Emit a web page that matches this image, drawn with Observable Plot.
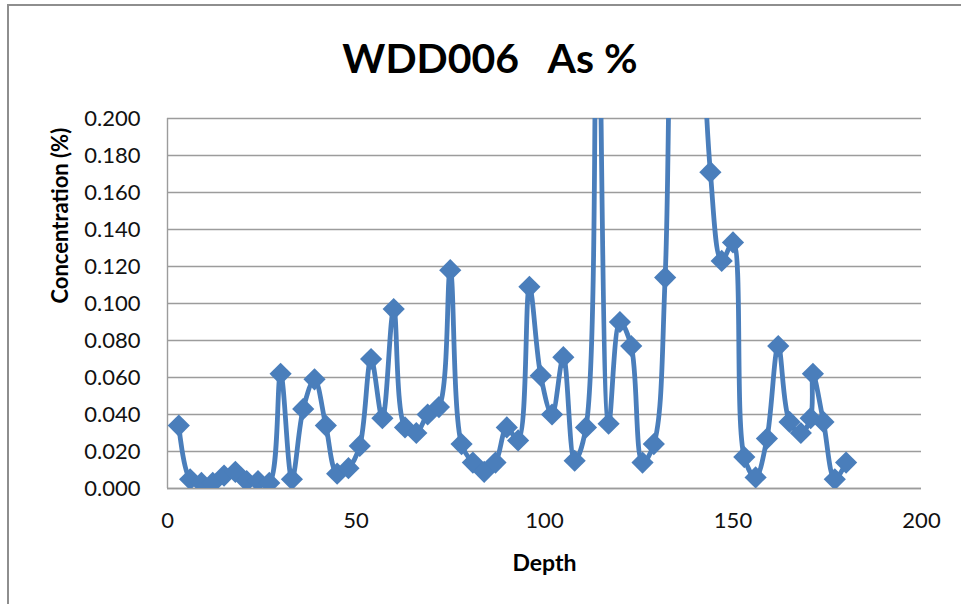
<!DOCTYPE html>
<html>
<head>
<meta charset="utf-8">
<script src="https://cdn.jsdelivr.net/npm/d3@7"></script>
<script src="https://cdn.jsdelivr.net/npm/@observablehq/plot@0.6"></script>
<style>
  html, body { margin: 0; padding: 0; background: #fff; overflow: hidden; }
  #wrap { position: relative; width: 961px; height: 604px; }
  #frame { position: absolute; left: 7px; top: 4px; width: 1000px; height: 700px;
           border-left: 2px solid #8e8e8e; border-top: 2px solid #8e8e8e; }
  #title { position: absolute; left: 0; width: 980px; top: 37px; text-align: center;
           font-family: Lato, sans-serif; font-weight: bold; font-size: 41px; line-height: 41px; color: #000; white-space: pre; }
  #chart { position: absolute; left: 0; top: 0; }
</style>
</head>
<body>
<div id="wrap">
  <div id="frame"></div>
  <div id="chart"></div>
  <div id="title">WDD006   As %</div>
</div>
<script>
// Depth (m) of each sample
const depths = [3,6,9,12,15,18,21,24,27,30,33,36,39,42,45,48,51,54,57,60,63,66,69,72,75,78,81,84,87,90,
  93,96,99,102,105,108,111,114,117,120,123,126,129,132,135,138,141,144,147,150,153,156,159,162,165,168,170.6,171.2,174,177,180];
// As concentration (%) — values above 0.200 are off the chart and estimated
const asPct = [0.034,0.005,0.003,0.003,0.007,0.009,0.004,0.004,0.003,0.062,0.005,0.043,0.059,0.034,0.008,0.011,0.023,0.070,0.038,0.097,
  0.033,0.030,0.040,0.044,0.118,0.024,0.014,0.009,0.014,0.033,0.026,0.109,0.061,0.040,0.071,0.015,0.033,0.30,0.035,0.090,
  0.077,0.014,0.024,0.114,0.45,0.50,0.30,0.171,0.123,0.133,0.017,0.006,0.027,0.077,0.036,0.030,0.038,0.062,0.036,0.005,0.014];
const yTicks = [0,0.02,0.04,0.06,0.08,0.10,0.12,0.14,0.16,0.18,0.20];
const xTicks = [0,50,100,150,200];
const xTitle = "Depth";
const yTitle = "Concentration (%)";

const data = depths.map((d, i) => ({depth: d, value: asPct[i]}));
const blue = "#4a7ebb";
const grid = "#9c9c9c";

const chart = Plot.plot({
  width: 961, height: 604,
  marginLeft: 167, marginRight: 40, marginTop: 118, marginBottom: 116,
  style: {fontFamily: "Lato, sans-serif", color: "#000", background: "transparent", overflow: "visible"},
  x: {domain: [0, 200]},
  y: {domain: [0, 0.2]},
  marks: [
    Plot.gridY(yTicks, {stroke: grid, strokeOpacity: 1, strokeWidth: 1.4}),
    Plot.ruleX([0], {stroke: grid, strokeWidth: 1.4}),
    Plot.ruleY([0], {stroke: grid, strokeWidth: 1.4}),
    Plot.axisY(yTicks, {tickSize: 0, tickPadding: 27, tickFormat: d3.format(".3f"), fontSize: 22, label: null, fill: "#111"}),
    Plot.axisX(xTicks, {tickSize: 0, tickPadding: 24, fontSize: 22, label: null, fill: "#111"}),
    Plot.line(data, {x: "depth", y: "value", curve: "catmull-rom", stroke: blue, strokeWidth: 4.8, clip: true}),
    Plot.dot(data, {x: "depth", y: "value", symbol: "diamond2", r: 10, fill: blue, stroke: null, clip: true}),
    Plot.text([xTitle], {frameAnchor: "bottom", dy: 82, text: d => d, fontSize: 23, fontWeight: "bold", fill: "#000"}),
    Plot.text([yTitle], {frameAnchor: "left", dx: -107, rotate: -90, text: d => d, fontSize: 22, fontWeight: "bold", fill: "#000"})
  ]
});
document.getElementById("chart").appendChild(chart);
</script>
</body>
</html>
